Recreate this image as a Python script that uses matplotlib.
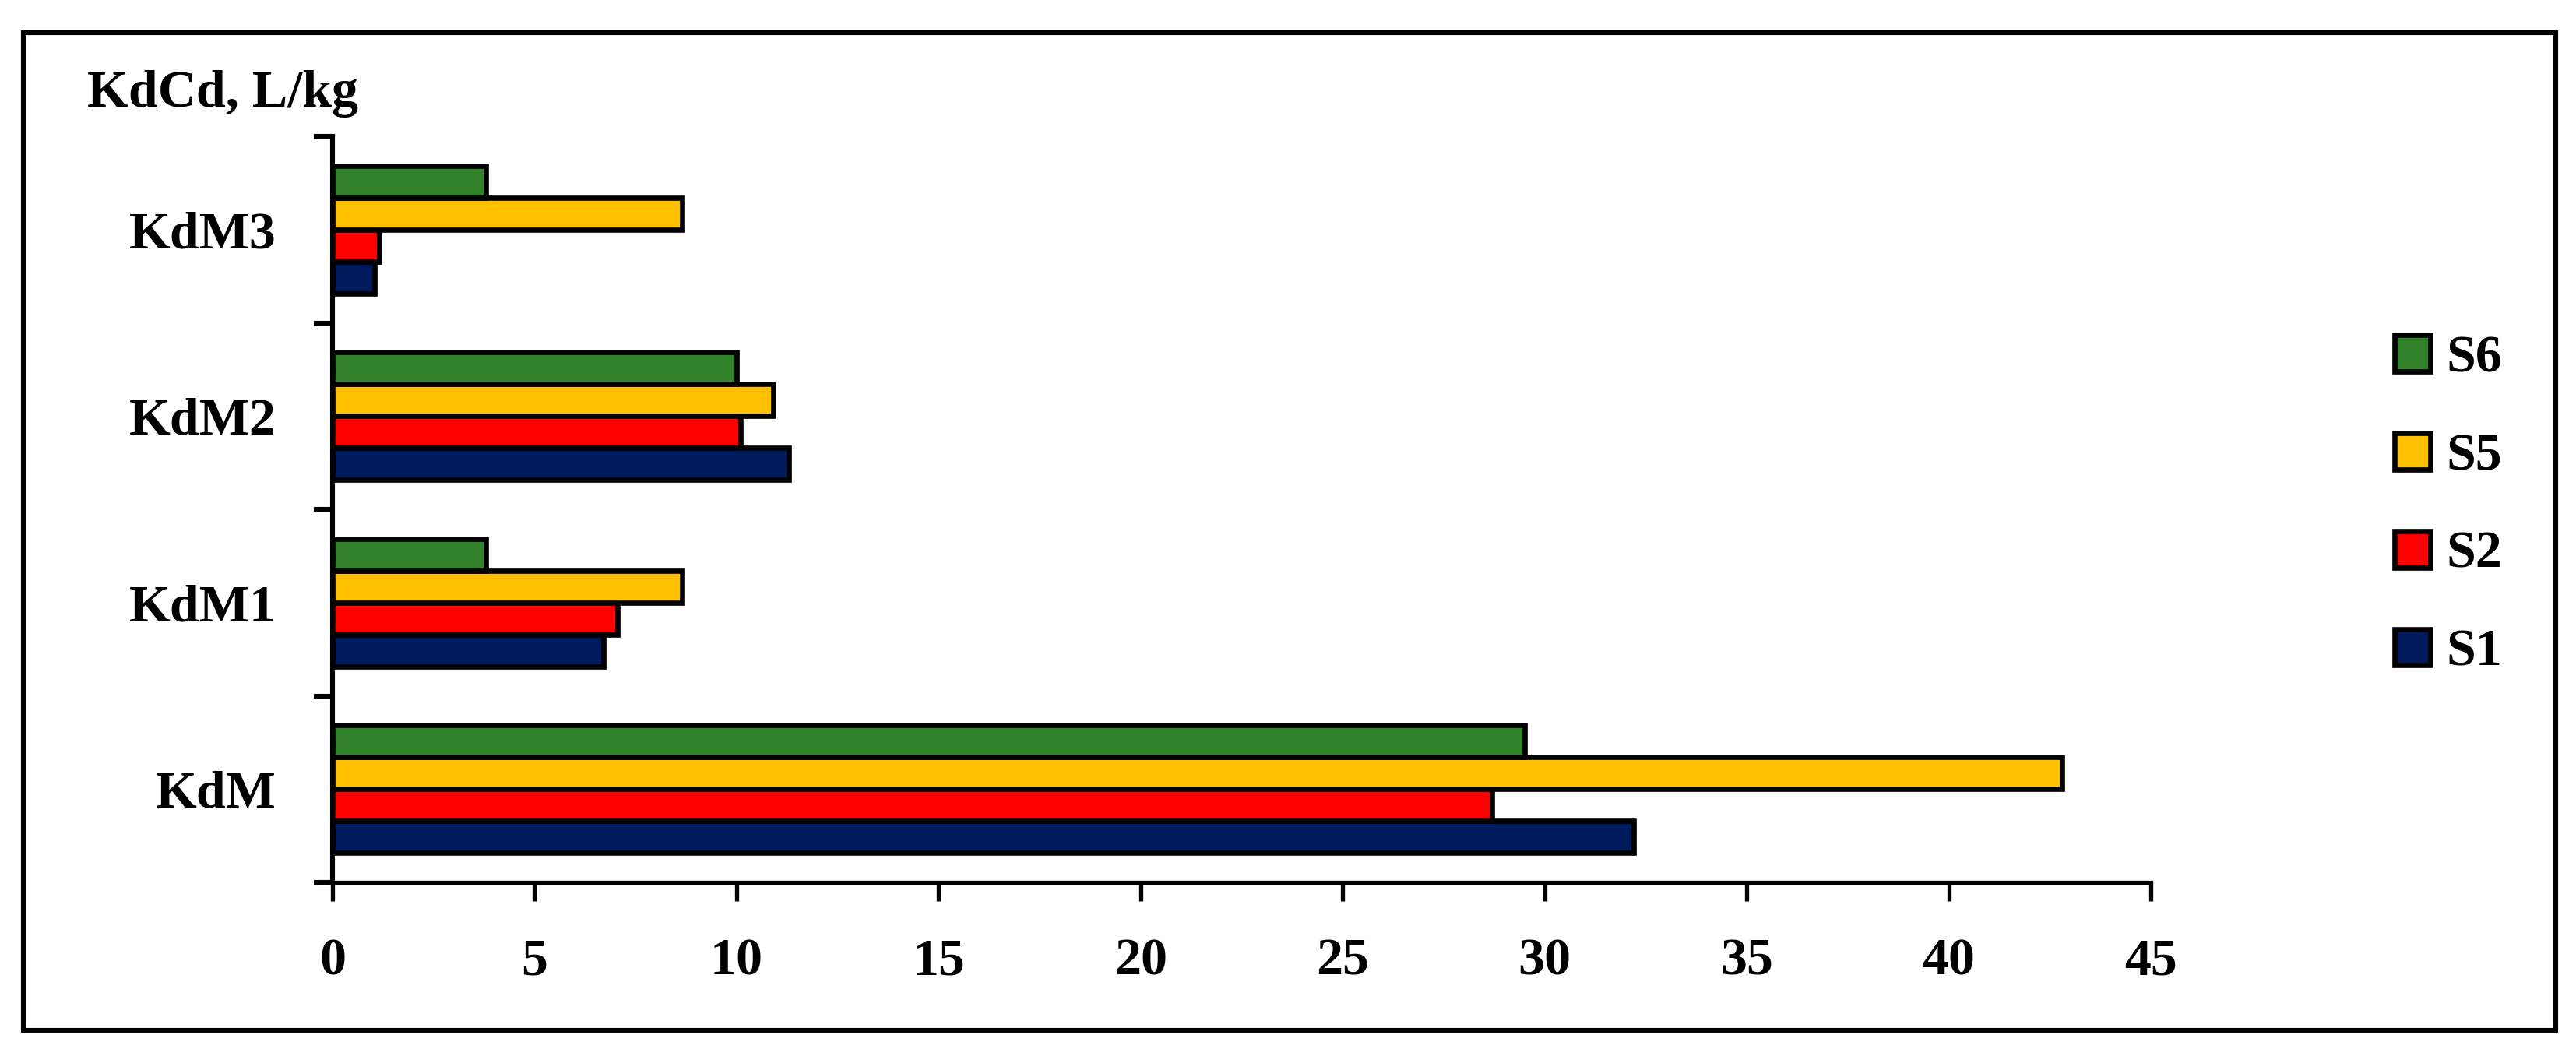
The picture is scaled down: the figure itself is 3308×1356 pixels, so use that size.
import matplotlib
matplotlib.use("Agg")
import matplotlib.pyplot as plt
import numpy as np
from matplotlib.patches import Rectangle

categories = ["KdM", "KdM1", "KdM2", "KdM3"]
series = ["S1", "S2", "S5", "S6"]
s1 = [32.2, 6.7, 11.3, 1.05]
s2 = [28.7, 7.05, 10.1, 1.15]
s5 = [42.8, 8.65, 10.9, 8.65]
s6 = [29.5, 3.8, 10.0, 3.8]
colors = ["#001a5e", "#ff0000", "#ffc000", "#31822a"]
x_ticks = [0, 5, 10, 15, 20, 25, 30, 35, 40, 45]

W, H = 3308, 1356
plt.rcParams["font.family"] = ["Liberation Serif", "DejaVu Serif"]
plt.rcParams["font.weight"] = "bold"

fig = plt.figure(figsize=(W / 200, H / 200), dpi=200)
ax = fig.add_axes([427 / W, 1 - 1133 / H, (2762 - 427) / W, (1133 - 175) / H])

y = np.arange(len(categories))
bh = 0.171
handles = []
for i, (name, vals) in enumerate(zip(series, [s1, s2, s5, s6])):
    b = ax.barh(y + (i - 1.5) * bh, vals, height=bh, color=colors[i],
                edgecolor="black", linewidth=2.4, label=name, zorder=3)
    handles.append(b)

ax.set_xlim(0, 45)
ax.set_ylim(-0.5, 3.5)
ax.set_xticks(x_ticks)
ax.set_xticklabels([str(t) for t in x_ticks], fontsize=24.5, fontweight="bold")
# ticks sit on the category boundaries, labels in the middle
ax.set_yticks(np.arange(-0.5, 4, 1.0))
ax.set_yticklabels([])
ax.set_yticks(y, minor=True)
ax.set_yticklabels(categories, minor=True, fontsize=24.5, fontweight="bold")
ax.tick_params(axis="y", which="major", length=8.6, width=2.2, direction="out")
ax.tick_params(axis="y", which="minor", length=0, pad=26)
ax.tick_params(axis="x", length=8.6, width=1.9, direction="out", pad=17)
for s in ["top", "right"]:
    ax.spines[s].set_visible(False)
ax.spines["left"].set_linewidth(2.2)
ax.spines["bottom"].set_linewidth(1.9)

fig.text(112 / W, 1 - 137 / H, "KdCd, L/kg", fontsize=24.5, fontweight="bold",
         ha="left", va="baseline")

leg = fig.legend(handles[::-1], series[::-1], loc="upper left",
                 bbox_to_anchor=(3075 / W, 1 - 430 / H), frameon=False,
                 fontsize=24.5, handlelength=0.68, handleheight=0.68,
                 handletextpad=0.3, labelspacing=0.95, borderpad=0,
                 borderaxespad=0)

# outer frame around the whole chart
fig.patches.append(Rectangle((30 / W, 1 - 1323 / H), (3282 - 30) / W, (1323 - 42) / H,
                             transform=fig.transFigure, fill=False,
                             edgecolor="black", linewidth=2.2))

fig.savefig("out.png", dpi=200, facecolor="white")
